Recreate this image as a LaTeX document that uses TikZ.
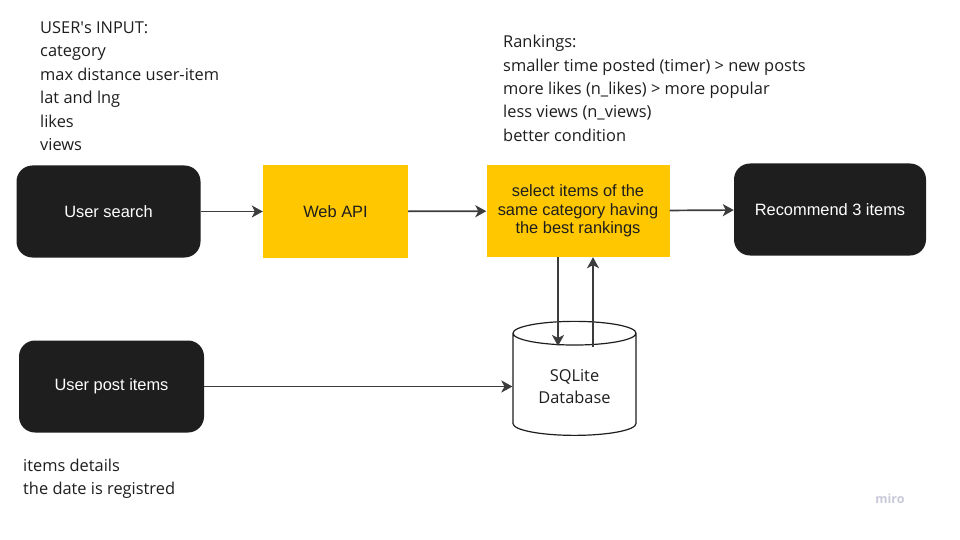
\documentclass[tikz,border=0pt]{standalone}
\usepackage{fontspec}
\setmainfont{Open Sans}
\newfontfamily\boxfont{Liberation Sans}
\usetikzlibrary{arrows.meta,shapes.geometric}
\definecolor{boxblack}{HTML}{1E1E1E}
\definecolor{boxyellow}{HTML}{FFC700}
\definecolor{arrowgray}{HTML}{3C3C3C}
\definecolor{mirogray}{HTML}{C9C9D9}
\tikzset{
	darkbox/.style={fill=boxblack, rounded corners=16pt, minimum width=184pt, minimum height=92pt, text=white, align=center, font=\boxfont\fontsize{16.4}{18.5}\selectfont},
	yellowbox/.style={fill=boxyellow, minimum height=92pt, text=boxblack, align=center, font=\boxfont\fontsize{16.4}{18.5}\selectfont},
	note/.style={anchor=north west, inner sep=0pt, align=left, text=boxblack, font=\fontsize{16.4}{23.4}\selectfont},
	link/.style={draw=arrowgray, line width=1.7pt, -{Stealth[length=11pt,width=12pt,inset=3pt]}}
}

\begin{document}
\begin{tikzpicture}[x=1pt,y=-1pt]
				\useasboundingbox[fill=white] (0,0) rectangle (960,540);
				
				\node[note] (userinput) at (40,21.5) {USER\textquotesingle s INPUT:\\category\\max distance user-item\\lat and lng\\likes\\views};
				\node[note] (rankings) at (503,35) {Rankings:\\smaller time posted (timer) > new posts\\more likes (n\_likes) > more popular\\less views (n\_views)\\better condition};
				\node[note] (details) at (23,458.5) {items details\\the date is registred};
				
				\node[darkbox] (search) at (108.5,211.5) {User search};
				\node[yellowbox, minimum width=145pt] (api) at (335.5,211.5) {Web API};
				\node[yellowbox, minimum width=183pt] (select) at (578,211) {select items of the\\same category having\\the best rankings};
				\node[darkbox, minimum width=192pt] (recommend) at (830,209.5) {Recommend 3 items};
				\node[darkbox, minimum width=185pt] (post) at (111.5,386.5) {User post items};
				
				\node[cylinder, shape border rotate=90, aspect=0.3, draw=boxblack, line width=1.2pt, minimum width=123pt, minimum height=114pt, align=center, text=boxblack, font=\fontsize{16.4}{22}\selectfont] (db) at (574.5,386.5) {SQLite\\Database};
				
				\coordinate (dbin) at (558,346);
				\coordinate (dbout) at (593,347);
				
				\draw[link] (search) -- (api);
				\draw[link] (api) -- (select);
				\draw[link] (select) -- (recommend);
				\draw[link] (select.south -| dbin) -- (dbin);
				\draw[link] (dbout) -- (dbout |- select.south);
				\draw[link] (post) -- (db);
				
				\node[text=mirogray, font=\fontsize{12.5}{12.5}\selectfont\bfseries] (miro) at (890,498.5) {miro};
			\end{tikzpicture}
\end{document}
